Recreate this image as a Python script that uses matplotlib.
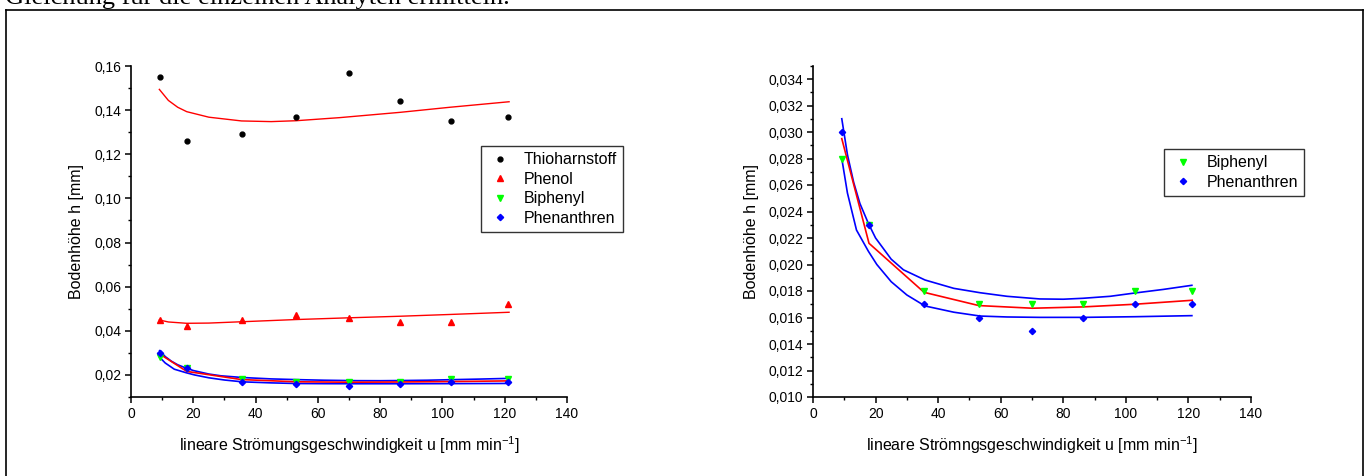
import numpy as np
import matplotlib
matplotlib.use("Agg")
import matplotlib.pyplot as plt
from matplotlib.lines import Line2D
from matplotlib.ticker import MultipleLocator, FuncFormatter

plt.rcParams['font.family'] = ['Liberation Sans', 'DejaVu Sans']

# flow velocity u [mm/min] and plate heights h [mm]
u = [9.2, 17.9, 35.5, 53.0, 70.1, 86.4, 102.8, 121.2]
thio = [0.155, 0.126, 0.129, 0.137, 0.157, 0.144, 0.135, 0.137]
phenol = [0.045, 0.042, 0.045, 0.047, 0.046, 0.044, 0.044, 0.052]
biphenyl = [0.028, 0.023, 0.018, 0.017, 0.017, 0.017, 0.018, 0.018]
phenanthren = [0.030, 0.023, 0.017, 0.016, 0.015, 0.016, 0.017, 0.017]

# fit curves
thio_fit_u = [9.1, 12, 15, 17.9, 25, 35.5, 45, 53, 67, 86.4, 102.4, 121.4]
thio_fit_h = [0.1494, 0.1444, 0.1413, 0.1393, 0.1368, 0.1351, 0.1348, 0.1352,
              0.1366, 0.1390, 0.1413, 0.1438]
phenol_fit_u = [9.1, 12, 17.9, 25, 35.5, 53, 70.3, 86.4, 102.4, 121.4]
phenol_fit_h = [0.0449, 0.0440, 0.0434, 0.0435, 0.0441, 0.0451, 0.0459,
                0.0466, 0.0474, 0.0484]
red_fit_h = [0.0295, 0.0216, 0.0179, 0.0169, 0.0167, 0.0168, 0.0170, 0.0173]
upper_u = [9.2, 11, 13, 15, 17.7, 20, 25, 28.9, 35.8, 45, 53.4, 62, 72.5, 80,
           86.3, 95, 102.9, 112, 121.1]
upper_h = [0.0310, 0.0283, 0.0262, 0.0246, 0.0231, 0.0220, 0.0204, 0.0196,
           0.01883, 0.0182, 0.01787, 0.01760, 0.01740, 0.01738, 0.01745,
           0.01760, 0.01785, 0.01812, 0.01843]
lower_u = [9.2, 11, 13.9, 17.7, 20.4, 25, 30, 35.8, 45, 53.4, 62, 72.5, 86.3,
           103, 121.1]
lower_h = [0.0280, 0.0254, 0.0226, 0.0210, 0.0200, 0.0187, 0.0177, 0.01687,
           0.0164, 0.01611, 0.01604, 0.01601, 0.01601, 0.01606, 0.01614]

W, H = 1368, 476
fig = plt.figure(figsize=(W / 100, H / 100), dpi=100)

# page text cut off at the top (as in the scan), and the frame round the figure
fig.text(5 / W, 1 - 4 / H, "Gleichung für die einzelnen Analyten ermitteln.",
         family='Liberation Serif', fontsize=19, va='baseline', ha='left')
for xs, ys in [([6, 6], [0, H - 10]), ([6, 1363], [H - 10, H - 10]),
               ([1363, 1363], [H - 10, 0])]:
    fig.add_artist(Line2D([x / W for x in xs], [y / H for y in ys],
                          color='black', lw=1.2))

ax1 = fig.add_axes([131 / W, 1 - 397 / H, 436 / W, 331 / H])
ax2 = fig.add_axes([813 / W, 1 - 397 / H, 438 / W, 331.25 / H])

mk = dict(linestyle='none', zorder=5)


def draw_small(ax):
    ax.plot(upper_u, upper_h, color='#0000ff', lw=1.2)
    ax.plot(lower_u, lower_h, color='#0000ff', lw=1.2)
    ax.plot(u, red_fit_h, color='#ff0000', lw=1.2)


# left: all four analytes
ax1.plot(thio_fit_u, thio_fit_h, color='#ff0000', lw=1.0)
ax1.plot(phenol_fit_u, phenol_fit_h, color='#ff0000', lw=1.0)
draw_small(ax1)
ax1.plot(u, thio, 'o', color='black', ms=3.5, label='Thioharnstoff', **mk)
ax1.plot(u, phenol, '^', color='#ff0000', ms=4.2, label='Phenol', **mk)
ax1.plot(u, biphenyl, 'v', color='#00ff00', ms=4.2, label='Biphenyl', **mk)
ax1.plot(u, phenanthren, 'D', color='#0000ff', ms=3.2, label='Phenanthren', **mk)

# right: zoom on biphenyl / phenanthren
draw_small(ax2)
ax2.plot(u, biphenyl, 'v', color='#00ff00', ms=4.2, label='Biphenyl', **mk)
ax2.plot(u, phenanthren, 'D', color='#0000ff', ms=3.2, label='Phenanthren', **mk)

ax1.set_ylim(0.01, 0.16)
ax1.yaxis.set_major_locator(MultipleLocator(0.02))
ax1.yaxis.set_minor_locator(MultipleLocator(0.01))
ax1.yaxis.set_major_formatter(FuncFormatter(lambda v, p: f"{v:.2f}".replace('.', ',')))
ax2.set_ylim(0.010, 0.035)
ax2.yaxis.set_major_locator(MultipleLocator(0.002))
ax2.yaxis.set_minor_locator(MultipleLocator(0.001))
ax2.yaxis.set_major_formatter(FuncFormatter(lambda v, p: f"{v:.3f}".replace('.', ',')))

for ax, xl in [(ax1, 'lineare Strömungsgeschwindigkeit u [mm min$^{\\mathregular{-1}}$]'),
               (ax2, 'lineare Strömngsgeschwindigkeit u [mm min$^{\\mathregular{-1}}$]')]:
    ax.set_xlim(0, 140)
    ax.xaxis.set_major_locator(MultipleLocator(20))
    ax.xaxis.set_minor_locator(MultipleLocator(10))
    ax.spines['top'].set_visible(False)
    ax.spines['right'].set_visible(False)
    ax.spines['left'].set_linewidth(1.2)
    ax.spines['bottom'].set_linewidth(1.2)
    ax.tick_params(which='major', direction='out', length=4, width=1.1,
                   labelsize=10, pad=3)
    ax.tick_params(which='minor', direction='out', length=2.5, width=1.0)
    ax.set_xlabel(xl, fontsize=11.5, labelpad=10)
    ax.set_ylabel('Bodenhöhe h [mm]', fontsize=11.5, labelpad=7)
    ax.patch.set_alpha(0)

leg_kw = dict(loc='upper left', fontsize=11.5, frameon=True, fancybox=False,
              edgecolor='black', borderpad=0.4, handlelength=1.6,
              handletextpad=0.65, labelspacing=0.28, borderaxespad=0,
              numpoints=1)
l1 = ax1.legend(bbox_to_anchor=(481 / W, 1 - 146 / H),
                bbox_transform=fig.transFigure, **leg_kw)
l2 = ax2.legend(bbox_to_anchor=(1164 / W, 1 - 149 / H),
                bbox_transform=fig.transFigure, **leg_kw)
for lg in (l1, l2):
    lg.get_frame().set_linewidth(1.0)

fig.savefig('out.png', dpi=100)
